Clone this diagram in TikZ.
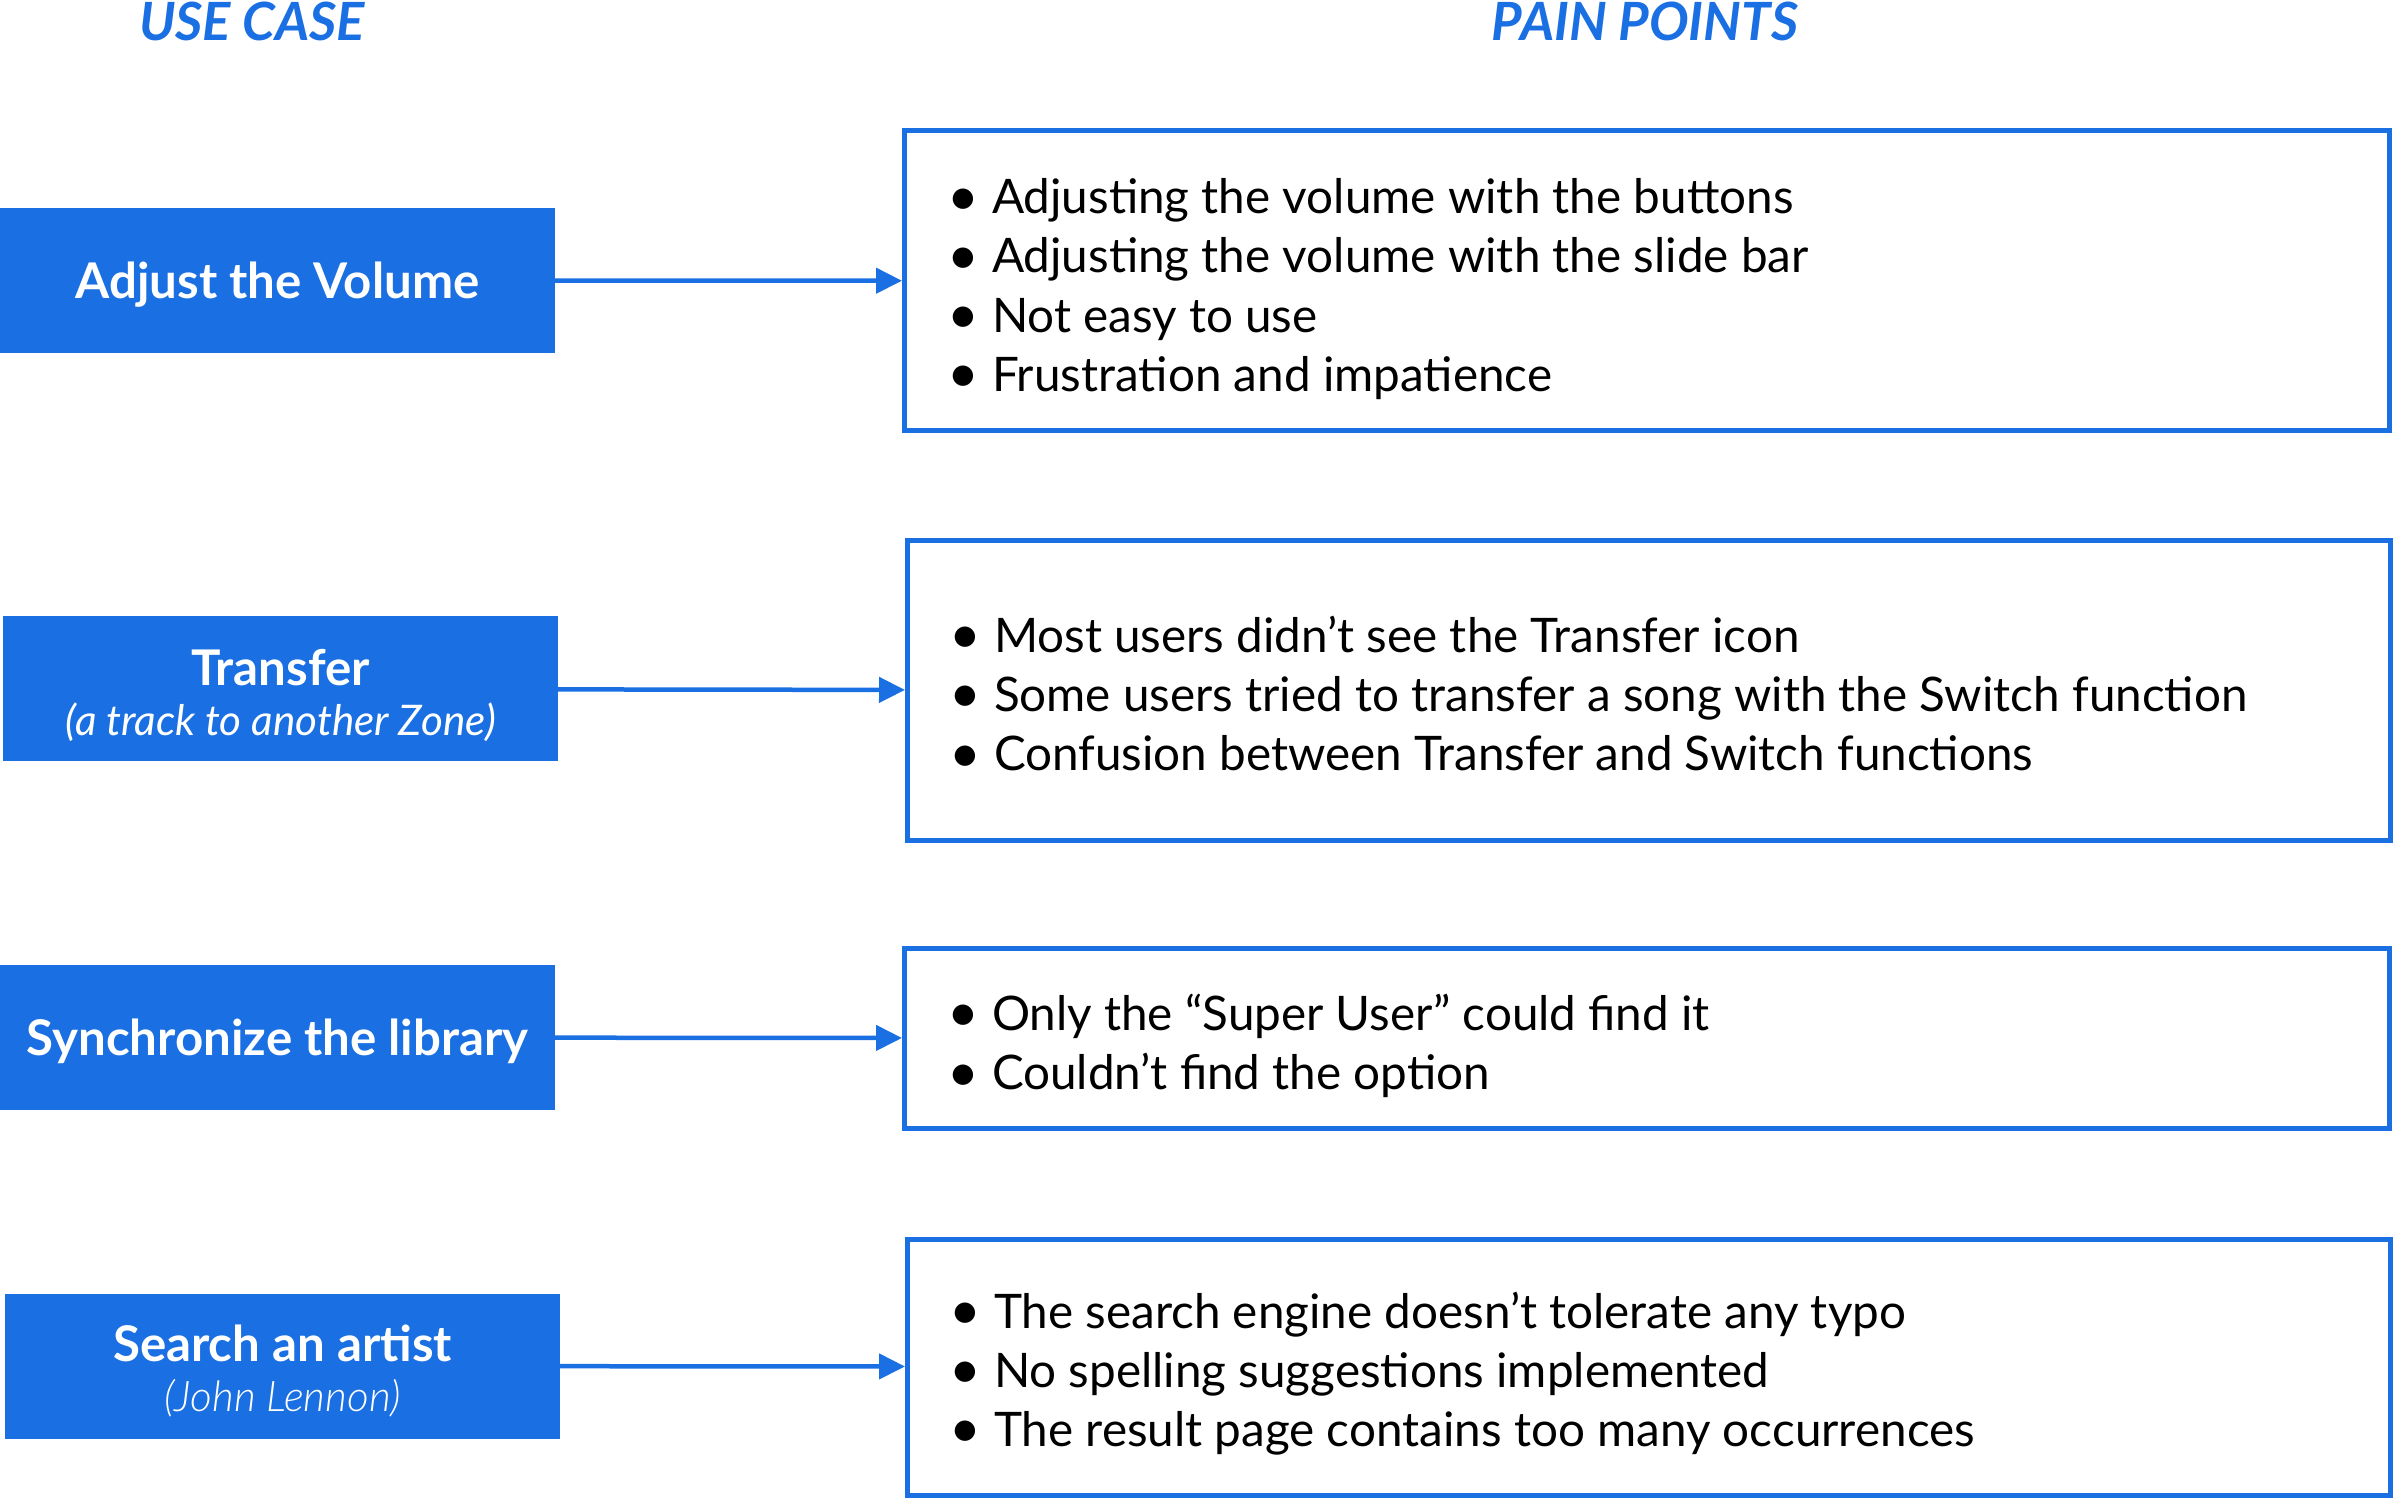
\documentclass[tikz,border=0pt]{standalone}
\usepackage{fontspec}
\setmainfont{Lato}
\IfFontExistsTF{Lato Light Italic}{\newfontfamily\latolight{Lato Light Italic}}{\newcommand\latolight{\itshape}}
\usetikzlibrary{arrows.meta}

\definecolor{ucblue}{HTML}{1A6FE2}

% one bullet line of a pain point box
\newcommand{\pp}[1]{\makebox[0.45cm][l]{\raisebox{-0.03em}{\scalebox{1.15}{\textbullet}}}#1}
% extra room above the first bullet line
\newcommand{\lift}[1]{\rule{0pt}{#1}}

\tikzset{
  heading/.style={text=ucblue, anchor=base, inner sep=0pt,
    font=\fontsize{15}{17}\selectfont\bfseries\itshape},
  usecase/.style={fill=ucblue, text=white, inner sep=0pt, outer sep=0pt,
    minimum width=5.55cm, minimum height=1.45cm, align=center,
    font=\fontsize{14}{14.5}\selectfont\bfseries},
  oneline/.style={text height=10pt, text depth=0pt},
  painbox/.style={draw=ucblue, line width=0.05cm, anchor=west,
    minimum width=14.85cm, inner xsep=0.37cm, text width=14cm, align=flush left,
    font=\fontsize{13.55}{16.85}\selectfont},
  link/.style={draw=ucblue, line width=0.045cm,
    -{Triangle[length=0.26cm,width=0.25cm]}}
}

\begin{document}
\hyphenpenalty=10000
\begin{tikzpicture}
  \useasboundingbox (0,0) rectangle (23.96,-15.02);

  % --- column headings ---
  \node[heading] (hcase) at (2.52,-0.41) {USE CASE};
  \node[heading] (hpain) at (16.45,-0.41) {PAIN POINTS};

  % --- use cases ---
  \node[usecase, oneline] (volume) at (2.775,-2.805) {Adjust the Volume};
  \node[usecase] (transfer) at (2.805,-6.89) {\rule{0pt}{14.2pt}Transfer\\[-0.3pt]
    {\fontsize{12}{14.5}\selectfont\mdseries\itshape (a track to another Zone)}};
  \node[usecase, oneline] (sync) at (2.775,-10.375) {Synchronize the library};
  \node[usecase] (search) at (2.825,-13.66) {\rule{0pt}{13.5pt}Search an artist\\[-0.3pt]
    {\fontsize{12}{14.5}\selectfont\mdseries\latolight (John Lennon)}};

  % --- pain points ---
  \node[painbox, minimum height=3.0cm] (pvolume) at (9.02,-2.81) {%
    \pp{\lift{14.6pt}Adjusting the volume with the buttons}\\
    \pp{Adjusting the volume with the slide bar}\\
    \pp{Not easy to use}\\
    \pp{Frustration and impatience}};
  \node[painbox, minimum height=3.0cm, minimum width=14.83cm] (ptransfer) at (9.05,-6.91) {%
    \pp{\lift{12pt}Most users didn’t see the Transfer icon}\\
    \pp{Some users tried to transfer a song with the Switch function}\\
    \pp{Confusion between Transfer and Switch functions}};
  \node[painbox, minimum height=1.79cm] (psync) at (9.02,-10.385) {%
    \pp{\lift{14.6pt}Only the “Super User” could find it}\\
    \pp{Couldn’t find the option}};
  \node[painbox, minimum height=2.56cm, minimum width=14.83cm] (psearch) at (9.05,-13.67) {%
    \pp{\lift{14pt}The search engine doesn\char"0027 t tolerate any typo}\\
    \pp{No spelling suggestions implemented}\\
    \pp{The result page contains too many occurrences}};

  % --- connectors ---
  \draw[link] (volume) -- (pvolume);
  \draw[link] (transfer) -- (ptransfer);
  \draw[link] (sync) -- (psync);
  \draw[link] (search) -- (psearch);
\end{tikzpicture}
\end{document}
